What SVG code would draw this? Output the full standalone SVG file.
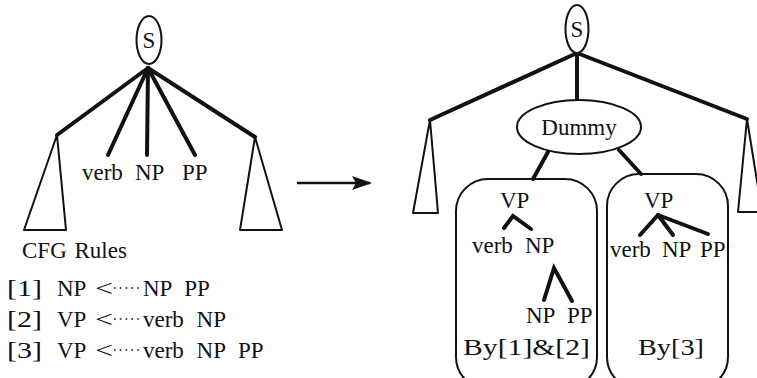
<svg xmlns="http://www.w3.org/2000/svg" width="757" height="378" viewBox="0 0 757 378">
  <defs>
    <marker id="arrowhead" viewBox="0 0 20 14" refX="18" refY="7" markerWidth="20" markerHeight="14" markerUnits="userSpaceOnUse" orient="auto">
      <path d="M0,0 L20,7 L0,14 L4,7 Z" fill="#111"/>
    </marker>
  </defs>
  <style>
    text { font-family: "Liberation Serif", "DejaVu Serif", serif; font-size: 23px; fill: #111; }
    .branch { stroke: #111; stroke-width: 4; stroke-linecap: round; fill: none; }
    .thin { stroke: #111; stroke-width: 2; fill: none; stroke-linejoin: round; }
    .node { fill: #fff; stroke: #111; stroke-width: 2; }
    .box { fill: none; stroke: #111; stroke-width: 2; }
    .dots { stroke: #111; stroke-width: 1.6; stroke-dasharray: 1.6 4.2; }
    .rules text { word-spacing: 7px; }
  </style>
  <rect width="757" height="378" fill="#fff"/>

  <!-- connectors: tree branches and the transformation arrow -->
  <g id="connectors">
    <!-- left tree -->
    <line class="branch" x1="148" y1="68" x2="57" y2="135"/>
    <line class="branch" x1="148" y1="68" x2="108" y2="155"/>
    <line class="branch" x1="148" y1="68" x2="147" y2="155"/>
    <line class="branch" x1="148" y1="68" x2="195" y2="155"/>
    <line class="branch" x1="148" y1="68" x2="255" y2="137"/>
    <!-- arrow between the trees -->
    <line x1="297" y1="183" x2="370" y2="183" stroke="#111" stroke-width="2.5" marker-end="url(#arrowhead)"/>
    <!-- right tree -->
    <line class="branch" x1="577" y1="53" x2="430" y2="120"/>
    <line class="branch" x1="577" y1="53" x2="747" y2="119"/>
    <line class="branch" x1="577" y1="53" x2="577" y2="101"/>
    <line class="branch" x1="548" y1="152" x2="533" y2="179"/>
    <line class="branch" x1="619" y1="150" x2="641" y2="174"/>
  </g>

  <!-- left tree -->
  <g id="left-S">
    <ellipse class="node" cx="149" cy="40" rx="12.5" ry="24"/>
    <text x="149" y="48" text-anchor="middle">S</text>
  </g>
  <g id="left-subtree-l">
    <polygon class="thin" points="57,135 24,230 66,230"/>
  </g>
  <g id="left-subtree-r">
    <polygon class="thin" points="255,137 240,230 282,230"/>
  </g>
  <g id="left-children">
    <text x="82" y="180">verb</text>
    <text x="135" y="180">NP</text>
    <text x="182" y="180">PP</text>
  </g>

  <!-- CFG rules -->
  <g id="rules" class="rules">
    <text x="22" y="258" style="word-spacing:2px">CFG Rules</text>

    <text x="7" y="296" textLength="35" lengthAdjust="spacingAndGlyphs">[1]</text>
    <text x="57" y="296">NP</text>
    <text x="95" y="296" textLength="18" lengthAdjust="spacingAndGlyphs">&lt;</text>
    <line class="dots" x1="114" y1="288" x2="142" y2="288"/>
    <text x="143" y="296">NP PP</text>

    <text x="7" y="327" textLength="35" lengthAdjust="spacingAndGlyphs">[2]</text>
    <text x="57" y="327">VP</text>
    <text x="95" y="327" textLength="18" lengthAdjust="spacingAndGlyphs">&lt;</text>
    <line class="dots" x1="114" y1="319" x2="142" y2="319"/>
    <text x="143" y="327">verb NP</text>

    <text x="7" y="358" textLength="35" lengthAdjust="spacingAndGlyphs">[3]</text>
    <text x="57" y="358">VP</text>
    <text x="95" y="358" textLength="18" lengthAdjust="spacingAndGlyphs">&lt;</text>
    <line class="dots" x1="114" y1="350" x2="142" y2="350"/>
    <text x="143" y="358">verb NP PP</text>
  </g>

  <!-- right tree -->
  <g id="right-S">
    <ellipse class="node" cx="577" cy="29" rx="11.5" ry="24"/>
    <text x="577" y="37" text-anchor="middle">S</text>
  </g>
  <g id="right-subtree-l">
    <polygon class="thin" points="430,120 413,213 438,213"/>
  </g>
  <g id="right-subtree-r">
    <polygon class="thin" points="747,119 738,212 762,212"/>
  </g>
  <g id="dummy">
    <ellipse class="node" cx="579" cy="127" rx="62" ry="27"/>
    <text x="579" y="135" text-anchor="middle">Dummy</text>
  </g>

  <!-- candidate built by rules 1 and 2 -->
  <g id="box-rules-1-2">
    <rect class="box" x="456" y="179" width="141" height="210" rx="32"/>
    <text x="500" y="208">VP</text>
    <polyline class="branch" points="504,228 513,216 531,229" stroke-linecap="butt"/>
    <text x="472" y="253">verb</text>
    <text x="525" y="253">NP</text>
    <polyline class="branch" points="544,300 554,268 572,301" stroke-linecap="butt"/>
    <text x="526" y="323">NP</text>
    <text x="567" y="323">PP</text>
    <text x="463" y="355" textLength="127" lengthAdjust="spacingAndGlyphs">By[1]&amp;[2]</text>
  </g>

  <!-- candidate built by rule 3 -->
  <g id="box-rule-3">
    <rect class="box" x="607" y="174" width="121" height="215" rx="32"/>
    <text x="644" y="208">VP</text>
    <line class="branch" x1="658" y1="215" x2="640" y2="235"/>
    <line class="branch" x1="658" y1="215" x2="673" y2="235" stroke-width="3"/>
    <line class="branch" x1="658" y1="215" x2="708" y2="234" stroke-width="3"/>
    <text x="610" y="257">verb</text>
    <text x="662" y="257">NP</text>
    <text x="700" y="257">PP</text>
    <text x="638" y="355" textLength="66" lengthAdjust="spacingAndGlyphs">By[3]</text>
  </g>
</svg>
